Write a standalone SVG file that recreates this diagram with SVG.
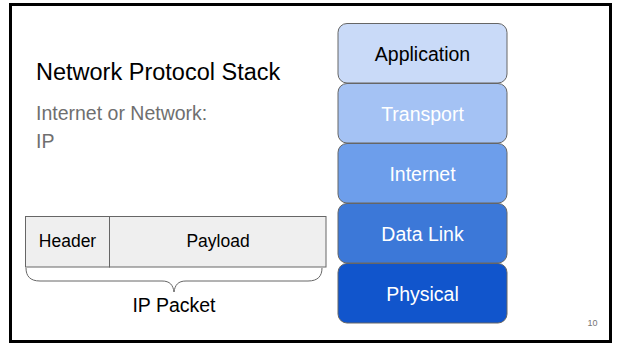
<svg xmlns="http://www.w3.org/2000/svg" width="618" height="343" viewBox="0 0 618 343">
<style>
.t{font-family:"Liberation Sans",Arial,sans-serif}
.layer{stroke:#666666;stroke-width:1}
.lt{font-family:"Liberation Sans",Arial,sans-serif;font-size:19.5px;text-anchor:middle;fill:#ffffff}
.cell{fill:#efefef;stroke:#666666;stroke-width:1}
</style>
<rect x="0" y="0" width="618" height="343" fill="#ffffff"/>
<rect x="10.5" y="4.5" width="600" height="337" fill="none" stroke="#000000" stroke-width="3"/>
<g id="title">
<text class="t" x="36" y="80" font-size="23.5" fill="#000000">Network Protocol Stack</text>
<text class="t" x="36" y="120" font-size="19.5" fill="#6f6f6f">Internet or Network:</text>
<text class="t" x="36" y="148" font-size="19.5" fill="#6f6f6f">IP</text>
</g>
<g id="application">
<rect class="layer" x="338" y="23.5" width="169" height="59.5" rx="9" fill="#c9daf8"/>
<text class="lt" x="422.5" y="60.5" style="fill:#000000">Application</text>
</g>
<g id="transport">
<rect class="layer" x="338" y="83.5" width="169" height="59.5" rx="9" fill="#a4c2f4"/>
<text class="lt" x="422.5" y="120.5">Transport</text>
</g>
<g id="internet">
<rect class="layer" x="338" y="143.5" width="169" height="59.5" rx="9" fill="#6d9eeb"/>
<text class="lt" x="422.5" y="180.5">Internet</text>
</g>
<g id="datalink">
<rect class="layer" x="338" y="203.5" width="169" height="59.5" rx="9" fill="#3c78d8"/>
<text class="lt" x="422.5" y="240.5">Data Link</text>
</g>
<g id="physical">
<rect class="layer" x="338" y="263.5" width="169" height="59.5" rx="9" fill="#1155cc"/>
<text class="lt" x="422.5" y="300.5">Physical</text>
</g>
<g id="header">
<rect class="cell" x="25.5" y="216.5" width="84" height="50.5"/>
<text class="t" x="67.5" y="247" font-size="17.5" text-anchor="middle" fill="#000000">Header</text>
</g>
<g id="payload">
<rect class="cell" x="109.5" y="216.5" width="216.5" height="50.5"/>
<text class="t" x="218" y="247" font-size="17.5" text-anchor="middle" fill="#000000">Payload</text>
</g>
<g id="connectors">
<path d="M26 268 C26 276 30 281 40 281 L162 281 C170 281 173 285 174 292 C175 285 178 281 186 281 L308 281 C318 281 322 276 322 268" fill="none" stroke="#666666" stroke-width="1"/>
</g>
<g id="ippacket">
<text class="t" x="174" y="312" font-size="19.5" text-anchor="middle" fill="#000000">IP Packet</text>
</g>
<text class="t" x="592.5" y="326" font-size="9" text-anchor="middle" fill="#757575">10</text>
</svg>
